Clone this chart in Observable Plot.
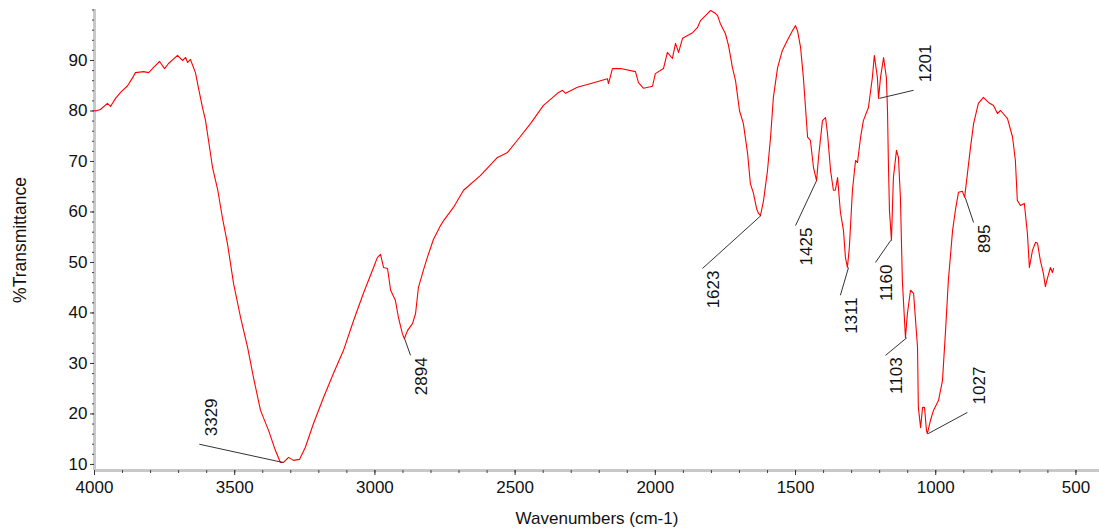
<!DOCTYPE html>
<html><head><meta charset="utf-8">
<script src="https://cdn.jsdelivr.net/npm/d3@7"></script>
<script src="https://cdn.jsdelivr.net/npm/@observablehq/plot@0.6"></script>
<style>
html,body{margin:0;padding:0;background:#fff;}
#chart svg{display:block;}
</style></head><body><div id="chart"></div>
<script>
// FTIR spectrum
const wavenumber = [4000,3996,3979,3954,3943,3925,3907,3882,3864,3854,3825,3807,3790,3768,3750,3736,3704,3686,3675,3668,3658,3640,3629,3615,3604,3593,3579,3561,3544,3526,3504,3479,3454,3433,3408,3379,3355,3337,3326,3308,3290,3269,3248,3219,3183,3148,3112,3076,3041,3009,2991,2980,2969,2955,2944,2927,2916,2902,2895,2884,2866,2855,2845,2827,2813,2791,2766,2755,2720,2684,2624,2563,2527,2492,2445,2399,2349,2331,2320,2278,2220,2171,2167,2153,2124,2071,2060,2042,2010,2000,1971,1957,1939,1928,1917,1903,1867,1850,1839,1821,1803,1785,1778,1768,1750,1739,1725,1714,1700,1686,1671,1661,1650,1639,1632,1625,1614,1600,1589,1579,1564,1547,1529,1511,1500,1493,1482,1472,1457,1447,1436,1425,1418,1404,1393,1386,1375,1365,1358,1350,1340,1329,1322,1315,1308,1297,1286,1279,1268,1258,1240,1226,1219,1208,1204,1197,1186,1176,1172,1169,1165,1158,1151,1140,1133,1126,1119,1108,1101,1090,1079,1065,1062,1054,1047,1040,1033,1030,1019,1008,990,976,965,955,940,930,919,905,897,887,876,865,848,830,812,794,780,769,744,726,716,709,698,684,673,666,655,644,637,627,616,609,602,591,584,580];
const transmittance = [80.1,80.0,80.3,81.5,80.9,82.5,83.7,85.0,86.6,87.6,87.8,87.6,88.6,89.8,88.4,89.4,91.0,90.0,90.6,89.6,90.2,87.6,84.5,80.7,78.1,74.0,68.8,64.5,58.9,53.8,45.8,39.1,33.2,27.2,20.7,16.7,12.8,10.4,10.4,11.4,10.8,11.0,13.4,18.1,23.3,28.0,32.6,38.5,43.9,48.4,51.0,51.6,49.0,48.8,44.5,42.5,39.1,35.9,34.9,36.5,37.9,39.9,45.0,48.5,51.0,54.6,57.3,58.3,60.9,64.3,67.2,70.8,71.8,74.2,77.5,81.1,83.5,84.1,83.5,84.7,85.6,86.4,85.4,88.4,88.4,87.8,85.6,84.5,84.9,87.4,88.4,91.6,90.4,93.4,91.6,94.4,95.5,96.5,97.9,98.9,99.9,99.3,98.9,97.3,95.3,93.0,88.6,86.0,80.1,77.5,71.6,65.6,63.7,60.7,59.7,59.3,62.3,68.2,74.8,82.7,88.6,92.0,94.0,95.9,96.9,95.9,92.6,86.6,74.8,74.2,68.8,66.2,70.8,78.1,78.7,75.5,68.2,64.3,64.3,66.8,60.0,56.3,51.0,49.0,53.0,64.3,70.2,69.8,74.8,78.1,80.7,86.6,91.0,86.6,82.5,86.6,90.6,86.6,80.1,70.2,60.3,54.4,66.8,72.2,70.8,62.9,46.4,35.1,39.9,44.5,43.9,33.2,21.3,17.3,21.3,21.3,16.7,16.1,18.7,20.7,22.7,26.6,36.5,46.4,56.3,60.3,63.9,64.1,62.9,67.6,72.8,77.5,81.5,82.7,81.7,81.1,79.5,80.1,78.5,74.8,70.2,62.3,61.3,61.7,55.7,49.0,52.4,54.0,53.8,50.4,47.8,45.2,46.8,49.0,48.0,48.8];

// Peak annotations: labelled wavenumber, its transmittance, and where the leader line ends
const peakLabel   = [3329, 2894, 1623, 1425, 1311, 1160, 1201, 1103, 1027, 895];
const peakT       = [10.4, 34.9, 59.3, 66.2, 49.0, 54.4, 82.5, 35.1, 16.1, 62.9];
const leaderEndWn = [3626, 2873, 1832, 1500, 1340, 1215, 1079, 1179, 887, 865];
const leaderEndT  = [14.0, 31.6, 48.8, 57.3, 43.5, 50.0, 84.1, 31.6, 20.3, 57.9];

const xTicks = [4000, 3500, 3000, 2500, 2000, 1500, 1000, 500];
const yTicks = [10, 20, 30, 40, 50, 60, 70, 80, 90];
const xMinorTicks = d3.range(500, 4001, 100);
const yMinorTicks = d3.range(10, 101, 2);

const xLabel = "Wavenumbers (cm-1)";
const yLabel = "%Transmittance";

const spectrum = wavenumber.map((w, i) => ({w, t: transmittance[i]}));
const peaks = peakLabel.map((p, i) => ({wn: p, t: peakT[i], ex: leaderEndWn[i], et: leaderEndT[i], above: leaderEndT[i] > peakT[i]}));

const xDomain = [4000, 416];
const yDomain = [8.8, 100.1];
const axisGray = "#c8c8c8";
const font = "'Liberation Sans', Arial, sans-serif";

const chart = Plot.plot({
  width: 1099, height: 531,
  marginLeft: 94, marginRight: 0, marginTop: 9, marginBottom: 61,
  style: {fontFamily: font, fontSize: "17px", color: "#111", background: "#fff"},
  x: {domain: xDomain},
  y: {domain: yDomain},
  marks: [
    Plot.ruleY([yDomain[0]], {stroke: axisGray, strokeWidth: 3}),
    Plot.ruleX([xDomain[0]], {stroke: axisGray, strokeWidth: 3}),
    Plot.axisX(xMinorTicks.filter(d => d >= xDomain[1]), {tickSize: 3, tickFormat: () => "", stroke: "#444", label: null}),
    Plot.axisX(xTicks, {tickSize: 5, tickPadding: 5, fontSize: 17, stroke: "#333", fill: "#111", label: null, tickFormat: d => String(d)}),
    Plot.axisY(yMinorTicks.filter(d => d <= yDomain[1]), {tickSize: 2, tickFormat: () => "", stroke: "#444", label: null}),
    Plot.axisY(yTicks, {tickSize: 4, tickPadding: 3, fontSize: 17, stroke: "#333", fill: "#111", label: null, tickFormat: d => String(d)}),
    Plot.text([xLabel], {frameAnchor: "bottom", dy: 48, lineAnchor: "middle", fontSize: 17, fill: "#111"}),
    Plot.text([yLabel], {frameAnchor: "left", dx: -74, rotate: -90, textAnchor: "middle", lineAnchor: "middle", fontSize: 17.5, fill: "#111"}),
    Plot.line(spectrum, {x: "w", y: "t", stroke: "#ff0000", strokeWidth: 1.1}),
    Plot.link(peaks, {x1: "wn", y1: "t", x2: "ex", y2: "et", stroke: "#333", strokeWidth: 1}),
    Plot.text(peaks.filter(d => d.above), {x: "ex", y: "et", text: d => String(d.wn), rotate: -90, textAnchor: "start", dx: 12, dy: -8, fontSize: 17, fill: "#111"}),
    Plot.text(peaks.filter(d => !d.above), {x: "ex", y: "et", text: d => String(d.wn), rotate: -90, textAnchor: "end", dx: 11, dy: 2, fontSize: 17, fill: "#111"})
  ]
});
document.getElementById("chart").appendChild(chart);
</script>
</body></html>
